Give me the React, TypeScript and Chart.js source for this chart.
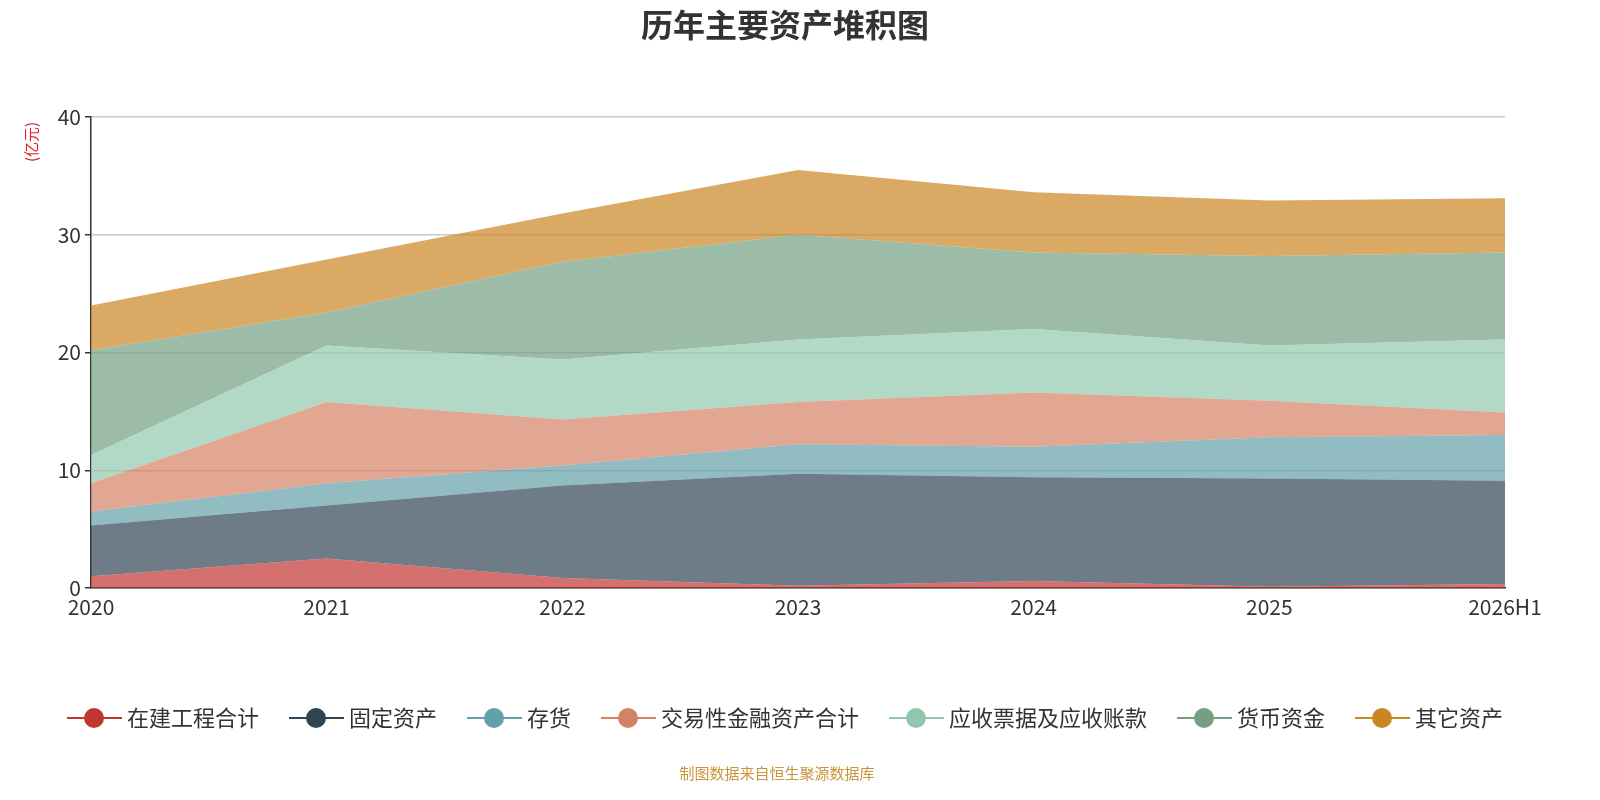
import React, { useEffect, useRef } from "react";
import { Chart, registerables } from "chart.js";
Chart.register(...registerables);

const categories = ["2020", "2021", "2022", "2023", "2024", "2025", "2026H1"];
const seriesNames = ["在建工程合计", "固定资产", "存货", "交易性金融资产合计", "应收票据及应收账款", "货币资金", "其它资产"];
const cip = [1.0, 2.5, 0.85, 0.2, 0.6, 0.1, 0.35];
const fixedAssets = [4.3, 4.5, 7.85, 9.5, 8.8, 9.2, 8.75];
const inventory = [1.2, 1.9, 1.7, 2.5, 2.6, 3.5, 3.9];
const tradingAssets = [2.4, 6.9, 3.9, 3.6, 4.6, 3.1, 1.9];
const receivables = [2.4, 4.8, 5.1, 5.3, 5.4, 4.7, 6.2];
const cash = [8.9, 2.8, 8.3, 8.9, 6.5, 7.6, 7.4];
const otherAssets = [3.8, 4.5, 4.1, 5.5, 5.1, 4.7, 4.6];
const colors = ["#c23531", "#2f4554", "#61a0a8", "#d48265", "#91c7ae", "#749f83", "#ca8622"];
const yTicks = [0, 10, 20, 30, 40];

function hexA(h: string, a: number) {
  const n = parseInt(h.slice(1), 16);
  return `rgba(${(n >> 16) & 255},${(n >> 8) & 255},${n & 255},${a})`;
}

export default function App() {
  const ref = useRef<HTMLCanvasElement>(null);
  useEffect(() => {
    const all = [cip, fixedAssets, inventory, tradingAssets, receivables, cash, otherAssets];
    const deco = {
      id: "deco",
      afterDraw(c: any) {
        const ctx = c.ctx;
        ctx.save();
        ctx.fillStyle = "#333";
        ctx.font = "bold 32px 'Noto Sans CJK SC'";
        ctx.textAlign = "center";
        ctx.textBaseline = "middle";
        ctx.fillText("历年主要资产堆积图", 785, 25);
        ctx.font = "15px 'Noto Sans CJK SC'";
        ctx.fillStyle = "#c8963c";
        ctx.fillText("制图数据来自恒生聚源数据库", 777, 773);
        ctx.save();
        ctx.translate(31, 142);
        ctx.rotate(-Math.PI / 2);
        ctx.fillStyle = "#e02020";
        ctx.font = "15px 'Noto Sans CJK SC'";
        ctx.fillText("(亿元)", 0, 0);
        ctx.restore();
        ctx.font = "22px 'Noto Sans CJK SC'";
        ctx.textAlign = "left";
        const widths = seriesNames.map((s) => 60 + ctx.measureText(s).width);
        const gap = 30;
        const total = widths.reduce((a, b) => a + b, 0) + gap * (widths.length - 1);
        let x = 785 - total / 2;
        const y = 718;
        seriesNames.forEach((s, i) => {
          ctx.strokeStyle = colors[i];
          ctx.lineWidth = 2;
          ctx.beginPath();
          ctx.moveTo(x, y);
          ctx.lineTo(x + 55, y);
          ctx.stroke();
          ctx.fillStyle = colors[i];
          ctx.beginPath();
          ctx.arc(x + 27, y, 10, 0, Math.PI * 2);
          ctx.fill();
          ctx.fillStyle = "#333";
          ctx.fillText(s, x + 60, y);
          x += widths[i] + gap;
        });
        ctx.restore();
      },
    };
    const chart = new Chart(ref.current!, {
      type: "line",
      data: {
        labels: categories,
        datasets: all.map((d, i) => ({
          label: seriesNames[i],
          data: d,
          fill: i === 0 ? "origin" : "-1",
          backgroundColor: hexA(colors[i], 0.7),
          borderColor: hexA(colors[i], 0.7),
          borderWidth: 0,
          pointRadius: 0,
          tension: 0,
        })),
      },
      options: {
        animation: false,
        responsive: false,
        layout: { padding: { top: 117, right: 95, left: 0, bottom: 0 } },
        plugins: { legend: { display: false }, tooltip: { enabled: false } },
        scales: {
          x: {
            offset: false,
            grid: { display: false, drawTicks: true, tickLength: 6, color: "#333" },
            border: { color: "#333", width: 1.5 },
            ticks: { color: "#333", font: { size: 21, family: "'Noto Sans CJK SC'" }, maxRotation: 0, padding: 0 },
            afterFit: (s: any) => { s.height = 212; },
          },
          y: {
            stacked: true,
            min: 0,
            max: 40,
            afterBuildTicks: (s: any) => { s.ticks = yTicks.map((v) => ({ value: v })); },
            grid: { color: "#c8c8c8", lineWidth: 1.5, tickLength: 6, tickColor: "#333" },
            border: { color: "#333", width: 1.5 },
            ticks: { color: "#333", font: { size: 21, family: "'Noto Sans CJK SC'" }, padding: 4 },
            afterFit: (s: any) => { s.width = 91; },
          },
        },
      },
      plugins: [deco],
    });
    return () => chart.destroy();
  }, []);
  return (
    <div style={{ position: "absolute", left: 0, top: 0, width: 1600, height: 800, background: "#fff" }}>
      <canvas ref={ref} width={1600} height={800} style={{ width: 1600, height: 800 }} />
    </div>
  );
}
